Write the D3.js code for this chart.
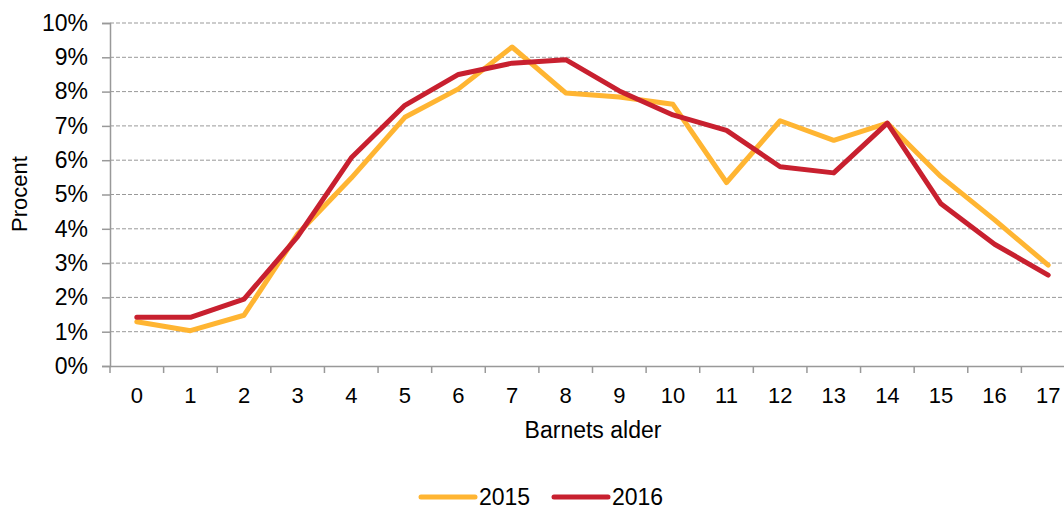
<!DOCTYPE html>
<html>
<head>
<meta charset="utf-8">
<script src="https://cdn.jsdelivr.net/npm/d3@7"></script>
<style>
  body { margin: 0; background: #fff; overflow: hidden; }
  text { font-family: "Liberation Sans", Arial, sans-serif; fill: #000; }
</style>
</head>
<body>
<svg id="chart" width="1064" height="509"></svg>
<script>
var ages = ["0","1","2","3","4","5","6","7","8","9","10","11","12","13","14","15","16","17"];
var values2015 = [1.29, 1.03, 1.48, 3.85, 5.48, 7.25, 8.08, 9.3, 7.96, 7.84, 7.63, 5.35, 7.15, 6.58, 7.08, 5.52, 4.26, 2.94];
var values2016 = [1.42, 1.42, 1.95, 3.77, 6.07, 7.6, 8.5, 8.83, 8.93, 8.02, 7.32, 6.87, 5.81, 5.63, 7.08, 4.73, 3.55, 2.65];
var yTicks = [0, 1, 2, 3, 4, 5, 6, 7, 8, 9, 10];
var seriesNames = ["2015", "2016"];
var colors = ["#FFB532", "#C8202F"];

var svg = d3.select("#chart");
var plotLeft = 110, plotRight = 1075, plotTop = 23, plotBottom = 366;

var x = d3.scaleBand().domain(ages).range([plotLeft, plotRight]);
var y = d3.scaleLinear().domain([0, 10]).range([plotBottom, plotTop]);

// gridlines
svg.append("g").selectAll("line")
    .data(yTicks.slice(1))
    .enter().append("line")
    .attr("x1", plotLeft).attr("x2", plotRight)
    .attr("y1", function (d) { return y(d); })
    .attr("y2", function (d) { return y(d); })
    .attr("stroke", "#999")
    .attr("stroke-width", 1)
    .attr("stroke-dasharray", "4,2");

// y axis
var yAxis = svg.append("g")
    .attr("transform", "translate(" + plotLeft + ",0)")
    .call(d3.axisLeft(y).tickValues(yTicks).tickSize(8).tickPadding(14)
        .tickFormat(function (d) { return d + "%"; }));
yAxis.select(".domain").attr("stroke", "#999").attr("stroke-width", 1.5);
yAxis.selectAll(".tick line").attr("stroke", "#999").attr("stroke-width", 1.5);
yAxis.selectAll("text").style("font-size", "23px").attr("fill", "#000");

// x axis
var xAxis = svg.append("g")
    .attr("transform", "translate(0," + plotBottom + ")")
    .call(d3.axisBottom(x).tickSize(0).tickPadding(21));
xAxis.select(".domain").attr("stroke", "#999").attr("stroke-width", 1.5);
xAxis.selectAll("text").style("font-size", "22px").attr("fill", "#000");

// category separators on x axis
svg.append("g").selectAll("line")
    .data(ages)
    .enter().append("line")
    .attr("x1", function (d) { return x(d); })
    .attr("x2", function (d) { return x(d); })
    .attr("y1", plotBottom).attr("y2", plotBottom + 7)
    .attr("stroke", "#999").attr("stroke-width", 1.5);

// axis titles
svg.append("text")
    .attr("x", 593).attr("y", 438)
    .attr("text-anchor", "middle")
    .style("font-size", "23px")
    .text("Barnets alder");
svg.append("text")
    .attr("transform", "translate(27,194) rotate(-90)")
    .attr("text-anchor", "middle")
    .style("font-size", "22px")
    .text("Procent");

// lines
var line = d3.line()
    .x(function (d, i) { return x(ages[i]) + x.bandwidth() / 2; })
    .y(function (d) { return y(d); });

[values2015, values2016].forEach(function (vals, k) {
    svg.append("path")
        .datum(vals)
        .attr("d", line)
        .attr("fill", "none")
        .attr("stroke", colors[k])
        .attr("stroke-width", 5)
        .attr("stroke-linejoin", "round")
        .attr("stroke-linecap", "round");
});

// legend
var legendX = [421, 554];
seriesNames.forEach(function (name, k) {
    var g = svg.append("g").attr("transform", "translate(" + legendX[k] + ",497)");
    g.append("line")
        .attr("x1", 0).attr("x2", 54)
        .attr("stroke", colors[k]).attr("stroke-width", 5)
        .attr("stroke-linecap", "round");
    g.append("text")
        .attr("x", 58).attr("y", 8)
        .style("font-size", "23px")
        .text(name);
});
</script>
</body>
</html>
